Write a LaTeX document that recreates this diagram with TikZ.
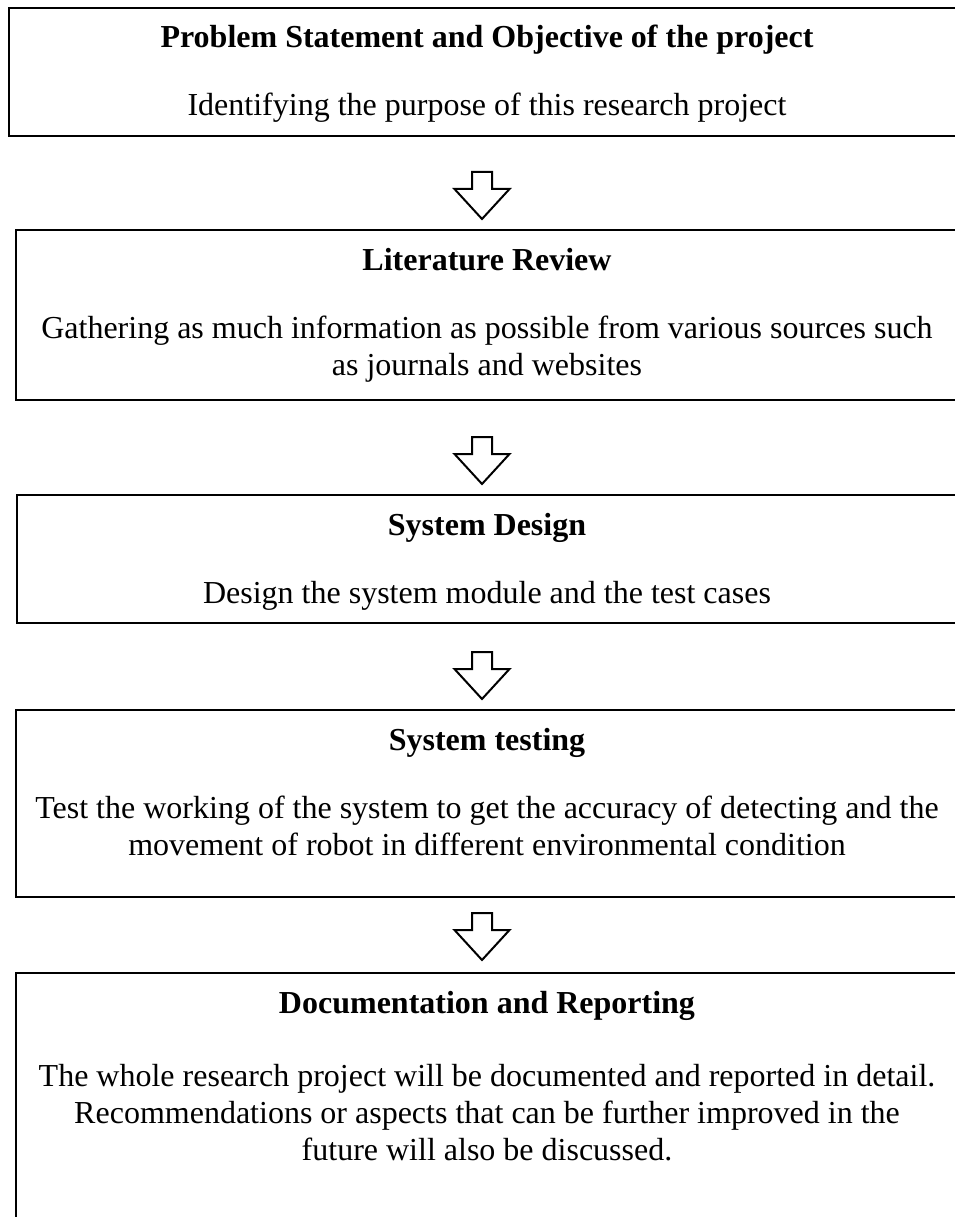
\documentclass[tikz,border=0pt]{standalone}
\usepackage{fontspec}
\setmainfont{Liberation Serif}
\begin{document}
\begin{tikzpicture}[x=1pt,y=-1pt,
  stagebox/.style={draw, line width=2.4pt, rectangle, inner sep=0pt,
    minimum width=962pt, anchor=north west},
  headline/.style={font=\fontsize{32}{37}\selectfont\bfseries, anchor=base, inner sep=0pt},
  bodyline/.style={font=\fontsize{32}{37}\selectfont, anchor=base, inner sep=0pt},
  blockarrow/.style={draw, line width=2pt, fill=white, line join=miter},
  downarrow/.pic={\path[blockarrow] (-10,0) -- (10,0) -- (10,17) -- (27.5,17)
    -- (0,47) -- (-27.5,17) -- (-10,17) -- cycle;}]
\useasboundingbox (0,0) rectangle (954,1217);
\fill[white] (0,0) rectangle (954,1217);

% stage boxes (their right edges run past the page)
\node[stagebox, minimum height=128pt] (b1) at (7.5,7) {};
\node[stagebox, minimum height=170pt] (b2) at (15,229) {};
\node[stagebox, minimum height=128pt] (b3) at (16,494) {};
\node[stagebox, minimum height=187pt] (b4) at (15,709) {};
\node[stagebox, minimum height=300pt] (b5) at (15,972) {};

% block arrows between the stages
\pic at (482,172) {downarrow};
\pic at (482,437) {downarrow};
\pic at (482,652) {downarrow};
\pic at (482,913) {downarrow};

% texts
\node[headline] (t1h) at (487,48) {Problem Statement and Objective of the project};
\node[bodyline] (t1b) at (487,116) {Identifying the purpose of this research project};

\node[headline] (t2h) at (487,270) {Literature Review};
\node[bodyline] (t2b1) at (487,338) {Gathering as much information as possible from various sources such};
\node[bodyline] (t2b2) at (487,375) {as journals and websites};

\node[headline] (t3h) at (487,535) {System Design};
\node[bodyline] (t3b) at (487,603) {Design the system module and the test cases};

\node[headline] (t4h) at (487,750) {System testing};
\node[bodyline] (t4b1) at (487,818) {Test the working of the system to get the accuracy of detecting and the};
\node[bodyline] (t4b2) at (487,855) {movement of robot in different environmental condition};

\node[headline] (t5h) at (487,1013) {Documentation and Reporting};
\node[bodyline] (t5b1) at (487,1086) {The whole research project will be documented and reported in detail.};
\node[bodyline] (t5b2) at (487,1123) {Recommendations or aspects that can be further improved in the};
\node[bodyline] (t5b3) at (487,1160) {future will also be discussed.};
\end{tikzpicture}
\end{document}
